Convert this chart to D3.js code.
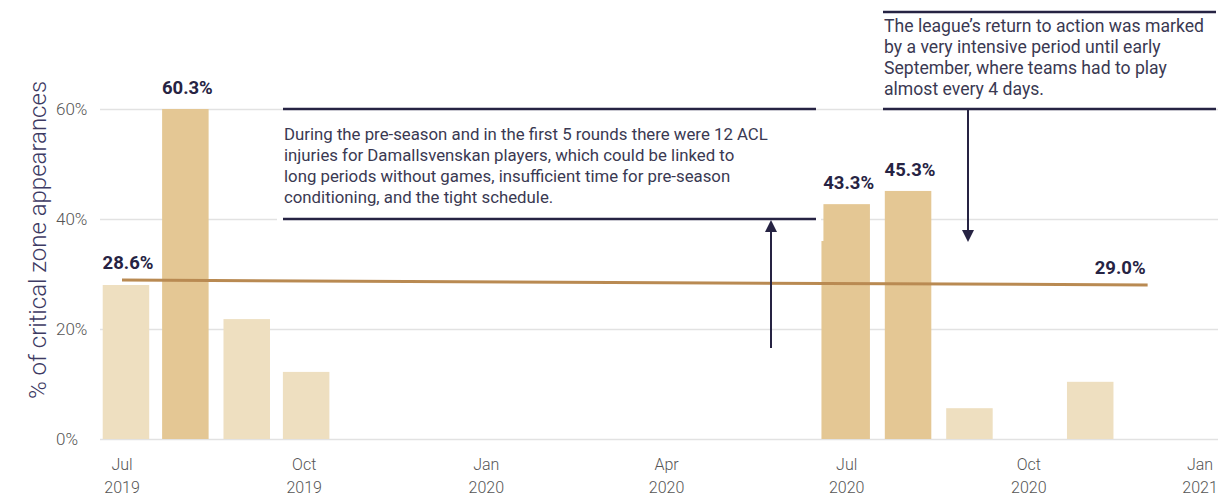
<!DOCTYPE html>
<html>
<head>
<meta charset="utf-8">
<script src="https://cdn.jsdelivr.net/npm/d3@7"></script>
<style>
  html, body { margin: 0; padding: 0; background: #fff; }
  svg { display: block; font-family: Roboto, "Noto Sans", sans-serif; }
</style>
</head>
<body>
<div id="chart"></div>
<script>
// monthly bars (date = bar centre)
var barDates = ["2019-07-03", "2019-08-02", "2019-09-02", "2019-10-02",
                "2020-06-30", "2020-07-01", "2020-08-01", "2020-09-01", "2020-11-01"];
var barValues = [28.0, 60.0, 21.8, 12.2, 36.0, 42.7, 45.1, 5.6, 10.4];
var barHighlight = [false, true, false, false, true, true, true, false, false];
var barLabels = [null, "60.3%", null, null, null, "43.3%", "45.3%", null, null];

// trend line
var trendDates = ["2019-07-01", "2020-11-30"];
var trendValues = [28.9, 28.0];
var trendLabels = ["28.6%", "29.0%"];

// axes
var xTickDates = ["2019-07-01", "2019-10-01", "2020-01-01", "2020-04-01",
                  "2020-07-01", "2020-10-01", "2021-01-01"];
var xTickMonths = ["Jul", "Oct", "Jan", "Apr", "Jul", "Oct", "Jan"];
var xTickYears = ["2019", "2019", "2020", "2020", "2020", "2020", "2021"];
var yTicks = [0, 20, 40, 60];

var note1 = [
  "During the pre-season and in the first 5 rounds there were 12 ACL",
  "injuries for Damallsvenskan players, which could be linked to",
  "long periods without games, insufficient time for pre-season",
  "conditioning, and the tight schedule."
];
var note2 = [
  "The league\u2019s return to action was marked",
  "by a very intensive period until early",
  "September, where teams had to play",
  "almost every 4 days."
];

var width = 1218, height = 499;
var navy = "#262343", lightBar = "#eedfc0", darkBar = "#e4c794", trendColor = "#b98a52";
var parse = d3.utcParse("%Y-%m-%d");

var x = d3.scaleUtc()
  .domain([parse("2019-07-01"), parse("2021-01-01")])
  .range([122, 1211]);
var y = d3.scaleLinear().domain([0, 60]).range([439, 109]);

var svg = d3.select("#chart").append("svg")
  .attr("width", width)
  .attr("height", height);

// gridlines
svg.append("g").selectAll("line")
  .data(yTicks)
  .join("line")
  .attr("x1", 100).attr("x2", width)
  .attr("y1", function(d) { return y(d) + 0.5; })
  .attr("y2", function(d) { return y(d) + 0.5; })
  .attr("stroke", "#e2e2e2")
  .attr("stroke-width", 1.5);

// y tick labels
svg.append("g").selectAll("text")
  .data(yTicks)
  .join("text")
  .attr("x", 56)
  .attr("y", function(d) { return y(d); })
  .attr("dy", "0.35em")
  .attr("fill", "#555")
  .attr("font-size", 17)
  .attr("font-weight", 300)
  .text(function(d) { return d + "%"; });

// y title
svg.append("text")
  .attr("transform", "translate(46,240) rotate(-90)")
  .attr("text-anchor", "middle")
  .attr("fill", "#3d3a63")
  .attr("font-size", 24)
  .attr("font-weight", 300)
  .text("% of critical zone appearances");

// x tick labels
var xt = svg.append("g").selectAll("g")
  .data(xTickDates)
  .join("g")
  .attr("transform", function(d, i) {
    var px = x(parse(d));
    if (i === xTickDates.length - 1) px = 1200;
    return "translate(" + px + ",0)";
  });
xt.append("text")
  .attr("y", 470).attr("text-anchor", "middle")
  .attr("fill", "#555").attr("font-size", 16).attr("font-weight", 300)
  .text(function(d, i) { return xTickMonths[i]; });
xt.append("text")
  .attr("y", 493).attr("text-anchor", "middle")
  .attr("fill", "#555").attr("font-size", 16).attr("font-weight", 300)
  .text(function(d, i) { return xTickYears[i]; });

// white backing behind the first note
svg.append("rect")
  .attr("x", 277).attr("y", y(60) + 2)
  .attr("width", 544).attr("height", y(40) - y(60) + 2)
  .attr("fill", "#fff");

// bars
var barW = 46.5;
svg.append("g").selectAll("rect")
  .data(barDates)
  .join("rect")
  .attr("x", function(d) { return x(parse(d)) - barW / 2; })
  .attr("y", function(d, i) { return y(barValues[i]); })
  .attr("width", barW)
  .attr("height", function(d, i) { return y(0) - y(barValues[i]); })
  .attr("fill", function(d, i) { return barHighlight[i] ? darkBar : lightBar; });

// bar value labels
svg.append("g").selectAll("text")
  .data(barDates.filter(function(d, i) { return barLabels[i]; }))
  .join("text")
  .attr("x", function(d) { return x(parse(d)) + 2; })
  .attr("y", function(d) { return y(barValues[barDates.indexOf(d)]) - 15; })
  .attr("text-anchor", "middle")
  .attr("fill", navy)
  .attr("font-size", 18.5)
  .attr("font-weight", 700)
  .text(function(d) { return barLabels[barDates.indexOf(d)]; });

// trend line
var trend = trendDates.map(function(d, i) { return [x(parse(d)), y(trendValues[i])]; });
svg.append("path")
  .attr("d", d3.line()(trend))
  .attr("stroke", trendColor)
  .attr("stroke-width", 3)
  .attr("fill", "none");
svg.append("text")
  .attr("x", trend[0][0] + 6).attr("y", trend[0][1] - 11)
  .attr("text-anchor", "middle")
  .attr("fill", navy).attr("font-size", 18.5).attr("font-weight", 700)
  .text(trendLabels[0]);
svg.append("text")
  .attr("x", trend[1][0] - 2).attr("y", trend[1][1] - 11)
  .attr("text-anchor", "end")
  .attr("fill", navy).attr("font-size", 18.5).attr("font-weight", 700)
  .text(trendLabels[1]);

// annotations
function note(lines, x0, x1, yTop, yBot, textY, size) {
  var g = svg.append("g");
  g.append("rect").attr("x", x0).attr("y", yTop).attr("width", x1 - x0).attr("height", yBot - yTop)
    .attr("fill", "#fff");
  [yTop, yBot].forEach(function(yy) {
    g.append("line").attr("x1", x0).attr("x2", x1).attr("y1", yy).attr("y2", yy)
      .attr("stroke", navy).attr("stroke-width", 2.5);
  });
  g.selectAll("text.n").data(lines).join("text")
    .attr("class", "n")
    .attr("x", x0 + 1)
    .attr("y", function(d, i) { return textY + i * 21; })
    .attr("fill", "#3a3952")
    .attr("font-size", size)
    .text(function(d) { return d; });
}
function arrow(ax, yFrom, yTo) {
  var dir = yTo < yFrom ? 1 : -1;
  svg.append("line").attr("x1", ax).attr("x2", ax).attr("y1", yFrom).attr("y2", yTo + dir * 8)
    .attr("stroke", navy).attr("stroke-width", 2);
  svg.append("path")
    .attr("d", "M" + ax + "," + yTo + "L" + (ax - 6) + "," + (yTo + dir * 12) + "L" + (ax + 6) + "," + (yTo + dir * 12) + "Z")
    .attr("fill", navy);
}

note(note1, 283, 816, y(60), y(40), 140, 16.8);
note(note2, 883, 1216, 12, y(60), 32, 17.6);
arrow(771, 348, y(40) + 1);
arrow(968, y(60) + 1, 242);
</script>
</body>
</html>
